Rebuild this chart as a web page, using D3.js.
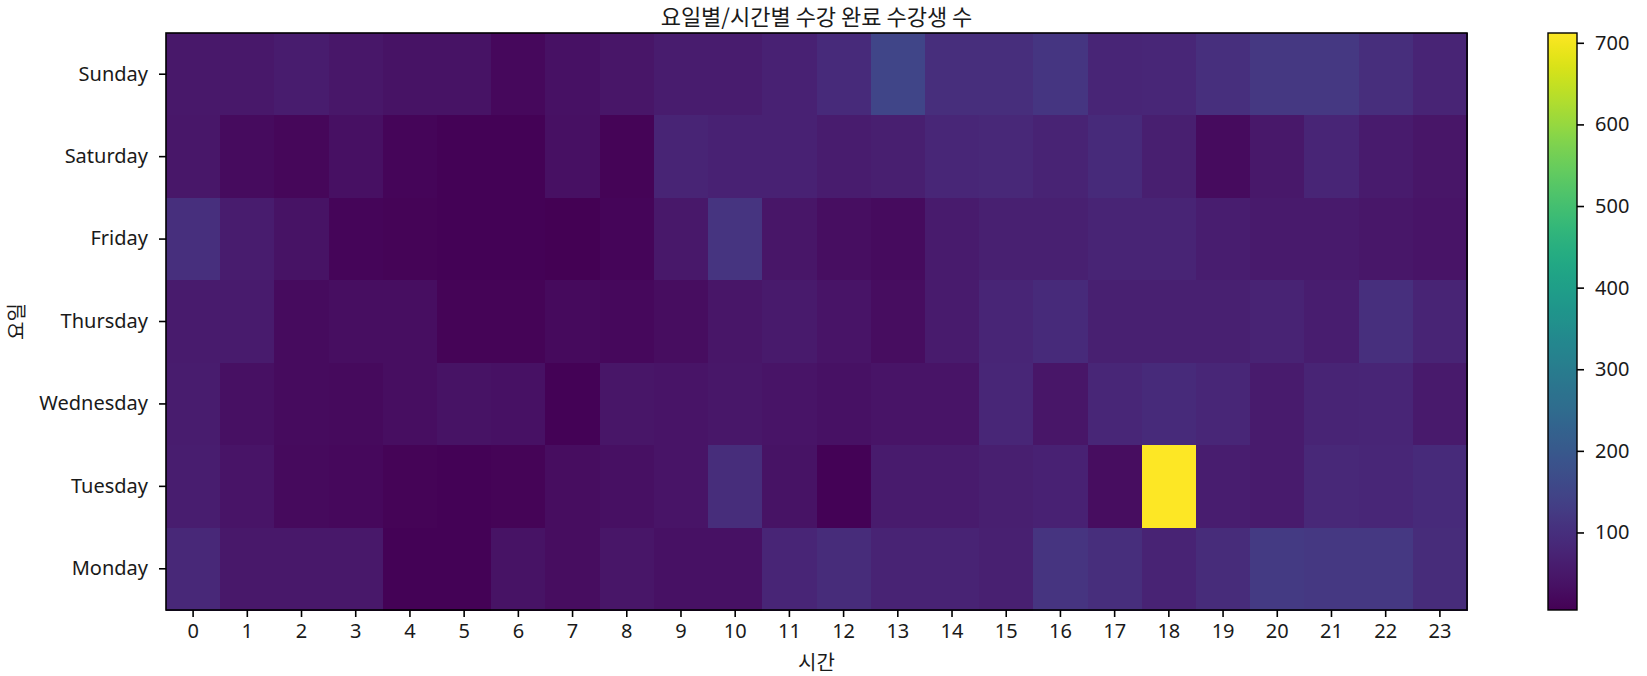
<!DOCTYPE html>
<html>
<head>
<meta charset="utf-8">
<script src="https://cdn.jsdelivr.net/npm/d3@7"></script>
<style>
  html, body { margin: 0; padding: 0; background: #fff; }
  svg { display: block; }
  text { font-family: "Noto Sans", "Noto Sans CJK KR", sans-serif; fill: #1a1a1a; }
  .kr { font-family: "Noto Sans CJK KR", "Noto Sans", sans-serif; }
</style>
</head>
<body>
<svg id="chart" width="1647" height="676"></svg>
<script>
// ---- data ----
const hours = ["0","1","2","3","4","5","6","7","8","9","10","11","12","13","14","15","16","17","18","19","20","21","22","23"];
const days = ["Sunday","Saturday","Friday","Thursday","Wednesday","Tuesday","Monday"];
const monday    = [85,50,50,50,8,10,40,28,45,38,38,78,92,72,72,68,112,97,72,92,125,120,120,92];
const tuesday   = [62,42,22,20,12,10,12,28,35,42,95,40,8,57,57,63,71,29,712,61,55,85,82,88];
const wednesday = [58,35,25,22,32,40,38,8,45,42,48,42,38,41,42,81,44,80,90,82,55,75,78,53];
const thursday  = [55,55,25,30,30,11,12,24,20,29,46,53,42,28,57,77,90,68,68,66,72,62,100,76];
const friday    = [100,60,40,15,12,8,8,5,15,50,110,45,32,25,55,66,68,76,75,61,52,52,47,42];
const saturday  = [48,25,18,35,15,10,10,35,12,75,71,71,58,64,82,85,72,90,65,25,50,77,55,45];
const sunday    = [50,50,60,48,40,40,20,38,45,58,58,70,90,150,97,97,115,79,80,100,120,120,98,75];
const colorTicks = [100,200,300,400,500,600,700];
const titleText = "요일별/시간별 수강 완료 수강생 수";
const xLabel = "시간";
const yLabel = "요일";

const rows = {Sunday: sunday, Saturday: saturday, Friday: friday, Thursday: thursday,
              Wednesday: wednesday, Tuesday: tuesday, Monday: monday};
const cells = [];
days.forEach(d => rows[d].forEach((v, i) => cells.push({day: d, hour: hours[i], value: v})));

// ---- layout ----
const X0 = 166, X1 = 1467, Y0 = 33, Y1 = 610;
const CB0 = 1548, CB1 = 1577;
const FS = 20;

const svg = d3.select("#chart");
const x = d3.scaleBand().domain(hours).range([X0, X1]);
const y = d3.scaleBand().domain(days).range([Y0, Y1]);
const vmin = d3.min(cells, c => c.value), vmax = d3.max(cells, c => c.value);
const color = d3.scaleSequential(d3.interpolateViridis).domain([vmin, vmax]);

svg.append("g").selectAll("rect").data(cells).join("rect")
  .attr("x", c => x(c.hour)).attr("y", c => y(c.day))
  .attr("width", x.bandwidth() + 0.5).attr("height", y.bandwidth() + 0.5)
  .attr("fill", c => color(c.value))
  .attr("shape-rendering", "crispEdges");

// axes
const xAxis = d3.axisBottom(x).tickSize(7).tickPadding(7);
const gx = svg.append("g").attr("transform", `translate(0,${Y1})`).call(xAxis);
const yAxis = d3.axisLeft(y).tickSize(7).tickPadding(11);
const gy = svg.append("g").attr("transform", `translate(${X0},0)`).call(yAxis);
[gx, gy].forEach(g => {
  g.select(".domain").remove();
  g.selectAll(".tick line").attr("stroke", "#000").attr("stroke-width", 1.6);
  g.selectAll(".tick text").attr("font-size", FS).attr("fill", "#1a1a1a")
    .style("font-family", '"Noto Sans", sans-serif');
});

// frame
svg.append("rect").attr("x", X0).attr("y", Y0).attr("width", X1 - X0).attr("height", Y1 - Y0)
  .attr("fill", "none").attr("stroke", "#000").attr("stroke-width", 1.6);

// title & labels
svg.append("text").attr("class", "kr").attr("x", (X0 + X1) / 2).attr("y", 25)
  .attr("text-anchor", "middle").attr("font-size", 22).text(titleText);
svg.append("text").attr("class", "kr").attr("x", (X0 + X1) / 2).attr("y", 670)
  .attr("text-anchor", "middle").attr("font-size", FS).text(xLabel);
svg.append("text").attr("class", "kr")
  .attr("transform", `translate(24,${(Y0 + Y1) / 2}) rotate(-90)`)
  .attr("text-anchor", "middle").attr("font-size", FS).text(yLabel);

// colorbar
const cy = d3.scaleLinear().domain([vmin, vmax]).range([Y1, Y0]);
const defs = svg.append("defs");
const grad = defs.append("linearGradient").attr("id", "cbgrad")
  .attr("x1", 0).attr("y1", 1).attr("x2", 0).attr("y2", 0);
d3.range(0, 1.0001, 0.02).forEach(t => {
  grad.append("stop").attr("offset", t).attr("stop-color", d3.interpolateViridis(t));
});
svg.append("rect").attr("x", CB0).attr("y", Y0).attr("width", CB1 - CB0).attr("height", Y1 - Y0)
  .attr("fill", "url(#cbgrad)").attr("stroke", "#000").attr("stroke-width", 1.4);
const cAxis = d3.axisRight(cy).tickValues(colorTicks).tickSize(7).tickPadding(11);
const gc = svg.append("g").attr("transform", `translate(${CB1},0)`).call(cAxis);
gc.select(".domain").remove();
gc.selectAll(".tick line").attr("stroke", "#000").attr("stroke-width", 1.6);
gc.selectAll(".tick text").attr("font-size", FS).attr("fill", "#1a1a1a")
  .style("font-family", '"Noto Sans", sans-serif');
</script>
</body>
</html>
